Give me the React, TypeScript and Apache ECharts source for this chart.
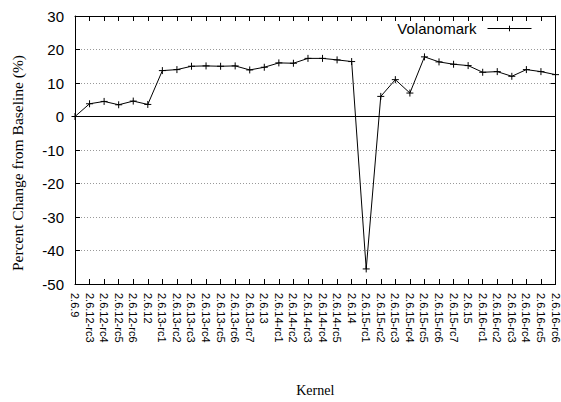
import React, { useEffect, useRef } from "react";
import * as echarts from "echarts";

const categories = [
  "2.6.9",
  "2.6.12-rc3", "2.6.12-rc4", "2.6.12-rc5", "2.6.12-rc6", "2.6.12",
  "2.6.13-rc1", "2.6.13-rc2", "2.6.13-rc3", "2.6.13-rc4", "2.6.13-rc5", "2.6.13-rc6", "2.6.13-rc7", "2.6.13",
  "2.6.14-rc1", "2.6.14-rc2", "2.6.14-rc3", "2.6.14-rc4", "2.6.14-rc5", "2.6.14",
  "2.6.15-rc1", "2.6.15-rc2", "2.6.15-rc3", "2.6.15-rc4", "2.6.15-rc5", "2.6.15-rc6", "2.6.15-rc7", "2.6.15",
  "2.6.16-rc1", "2.6.16-rc2", "2.6.16-rc3", "2.6.16-rc4", "2.6.16-rc5", "2.6.16-rc6",
];

const volanomark = [
  0,
  3.8, 4.5, 3.5, 4.6, 3.6,
  13.7, 14.0, 15.0, 15.1, 15.0, 15.1, 13.9, 14.7,
  16.0, 15.9, 17.35, 17.35, 16.9, 16.4,
  -45.5, 6.0, 11.0, 7.0, 17.8, 16.3, 15.6, 15.2,
  13.2, 13.4, 12.0, 14.0, 13.4, 12.5,
];

const yMin = -50;
const yMax = 30;
const yStep = 10;

const plus = "path://M5,0V10M0,5H10";

export default function App() {
  const ref = useRef<HTMLDivElement>(null);
  useEffect(() => {
    document.body.style.margin = "0";
    if (!ref.current) return;
    const chart = echarts.init(ref.current, null, { renderer: "svg" });
    const axisLine = { show: true, lineStyle: { color: "#000", width: 1 } };
    chart.setOption({
      animation: false,
      backgroundColor: "#fff",
      grid: { left: 75, right: 5, top: 16, bottom: 112, containLabel: false },
      legend: {
        right: 24,
        top: 16,
        align: "right",
        itemWidth: 44,
        itemHeight: 7,
        lineStyle: { width: 1, color: "#000" },
        itemStyle: { color: "#000", borderColor: "#000", borderWidth: 1 },
        textStyle: { fontFamily: "Liberation Sans", fontSize: 15, color: "#000", padding: [0, 6, 0, 0] },
        data: ["Volanomark"],
      },
      xAxis: [
        {
          type: "category",
          data: categories,
          boundaryGap: false,
          position: "bottom",
          axisLine: { ...axisLine, onZero: false },
          axisTick: { show: true, inside: true, length: 5, interval: 0, lineStyle: { color: "#000" } },
          axisLabel: {
            interval: 0,
            rotate: -90,
            margin: 9,
            fontFamily: "Liberation Sans",
            fontSize: 11,
            color: "#000",
          },
          splitLine: { show: false },
          name: "Kernel",
          nameLocation: "middle",
          nameGap: 99,
          nameTextStyle: { fontFamily: "Liberation Serif", fontSize: 14, color: "#000" },
        },
        {
          type: "category",
          data: categories,
          boundaryGap: false,
          position: "top",
          axisLine: { ...axisLine, onZero: false },
          axisTick: { show: true, inside: true, length: 5, interval: 0, lineStyle: { color: "#000" } },
          axisLabel: { show: false },
          splitLine: { show: false },
        },
      ],
      yAxis: [
        {
          type: "value",
          min: yMin,
          max: yMax,
          interval: yStep,
          position: "left",
          axisLine,
          axisTick: { show: true, inside: true, length: 5, lineStyle: { color: "#000" } },
          axisLabel: { margin: 11, fontFamily: "Liberation Sans", fontSize: 15, color: "#000" },
          splitLine: { show: true, lineStyle: { color: "#999", type: [1, 2], width: 1 } },
        },
        {
          type: "value",
          min: yMin,
          max: yMax,
          interval: yStep,
          position: "right",
          axisLine,
          axisTick: { show: true, inside: true, length: 5, lineStyle: { color: "#000" } },
          axisLabel: { show: false },
          splitLine: { show: false },
        },
      ],
      graphic: [
        {
          type: "text",
          x: 17,
          y: 163,
          rotation: Math.PI / 2,
          style: {
            text: "Percent Change from Baseline (%)",
            fontFamily: "Liberation Serif",
            fontSize: 15.5,
            fill: "#000",
            align: "center",
            verticalAlign: "middle",
          },
        },
      ],
      series: [
        {
          name: "Volanomark",
          type: "line",
          data: volanomark,
          xAxisIndex: 0,
          yAxisIndex: 0,
          symbol: plus,
          symbolSize: 7,
          showSymbol: true,
          lineStyle: { color: "#000", width: 1 },
          itemStyle: { color: "#000", borderColor: "#000", borderWidth: 1 },
          markLine: {
            silent: true,
            symbol: ["none", "none"],
            label: { show: false },
            lineStyle: { color: "#000", type: "solid", width: 1 },
            data: [{ yAxis: 0 }],
          },
          z: 3,
        },
      ],
    });
    return () => chart.dispose();
  }, []);
  return <div ref={ref} style={{ width: 561, height: 402 }} />;
}
